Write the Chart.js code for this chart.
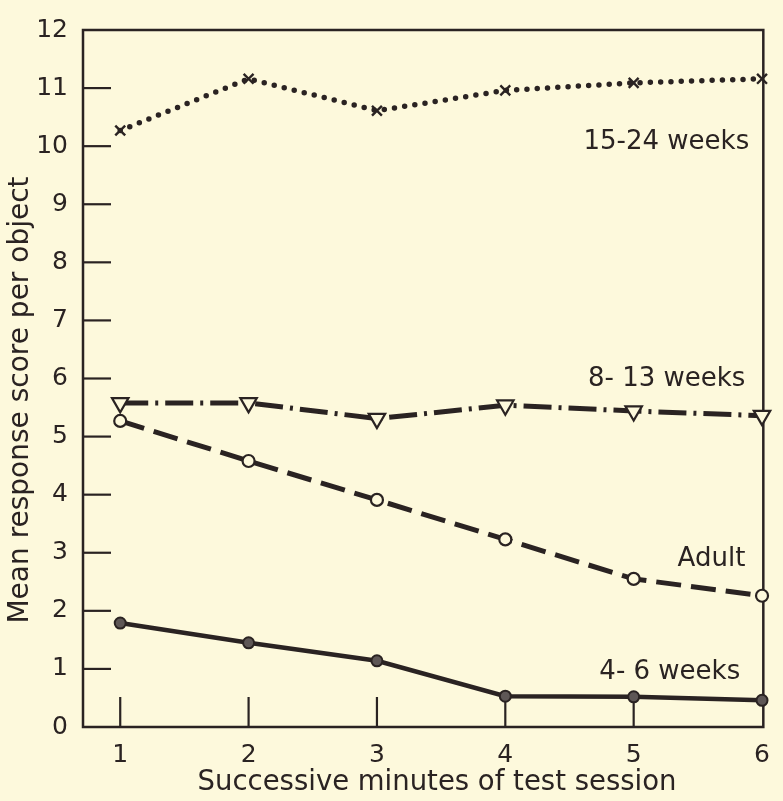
<!DOCTYPE html>
<html><head><meta charset="utf-8">
<script src="https://cdn.jsdelivr.net/npm/chart.js@4/dist/chart.umd.min.js"></script>
<style>html,body{margin:0;padding:0;background:#fdf9dc;}canvas{display:block}</style>
</head><body>
<canvas id="c" width="783" height="801"></canvas>
<script>
// ---- data ----
const minutes = [1, 2, 3, 4, 5, 6];
const weeks15to24 = [10.27, 11.16, 10.61, 10.96, 11.09, 11.16];
const weeks8to13 = [5.58, 5.58, 5.31, 5.54, 5.44, 5.36];
const adult = [5.27, 4.58, 3.91, 3.23, 2.55, 2.26];
const weeks4to6 = [1.79, 1.45, 1.14, 0.53, 0.52, 0.46];
const yTickValues = [0, 1, 2, 3, 4, 5, 6, 7, 8, 9, 10, 11, 12];
const xTickValues = [1, 2, 3, 4, 5, 6];
const seriesNames = ['15-24 weeks', '8- 13 weeks', 'Adult', '4- 6 weeks'];
const xTitle = 'Successive minutes of test session';
const yTitle = 'Mean response score per object';

// ---- styles ----
const INK = '#2a2322';
const BG = '#fdf9dc';
const FONT = 'DejaVu Sans';
const pts = arr => minutes.map((m, i) => ({ x: m, y: arr[i] }));

const labelSpots = [ // [series index, x value (right edge), y value]
  [0, 5.9, 10.07], [1, 5.87, 5.99], [2, 5.87, 2.89], [3, 5.83, 0.95]
];

const framePlugin = {
  id: 'frame',
  beforeDraw(chart) {
    const c = chart.ctx;
    c.save(); c.fillStyle = BG; c.fillRect(0, 0, chart.width, chart.height); c.restore();
  },
  beforeDatasetsDraw(chart) {
    const c = chart.ctx, ca = chart.chartArea, xs = chart.scales.x, ys = chart.scales.y;
    c.save();
    c.strokeStyle = INK; c.lineWidth = 2.5; c.lineCap = 'butt';
    c.strokeRect(ca.left, ca.top, ca.right - ca.left, ca.bottom - ca.top);
    c.lineWidth = 2.2;
    yTickValues.filter(v => v > 0 && v < 12).forEach(v => {
      const py = ys.getPixelForValue(v);
      c.beginPath(); c.moveTo(ca.left, py); c.lineTo(ca.left + 28, py); c.stroke();
    });
    xTickValues.filter(v => v < 6).forEach(v => {
      const px = xs.getPixelForValue(v);
      c.beginPath(); c.moveTo(px, ca.bottom); c.lineTo(px, ca.bottom - 30); c.stroke();
    });
    c.restore();
  },
  afterDraw(chart) {
    const c = chart.ctx, ca = chart.chartArea, xs = chart.scales.x, ys = chart.scales.y;
    c.save();
    c.fillStyle = INK;
    c.font = '26px "' + FONT + '"';
    c.textBaseline = 'middle';
    c.textAlign = 'right';
    labelSpots.forEach(([i, xv, yv]) => {
      c.fillText(seriesNames[i], xs.getPixelForValue(xv), ys.getPixelForValue(yv));
    });
    c.font = '27.5px "' + FONT + '"';
    c.textAlign = 'center';
    c.fillText(xTitle, 437, 783);
    c.translate(21, 400);
    c.rotate(-Math.PI / 2);
    c.font = '28px "' + FONT + '"';
    c.fillText(yTitle, 0, 0);
    c.restore();
  }
};

new Chart(document.getElementById('c'), {
  type: 'line',
  data: {
    datasets: [
      {
        label: seriesNames[0], data: pts(weeks15to24),
        borderColor: INK, borderWidth: 5.5, borderDash: [0, 10.3], borderCapStyle: 'round',
        pointStyle: 'crossRot', pointRadius: 7, pointBorderWidth: 2.4,
        pointBorderColor: INK, pointBackgroundColor: INK, clip: false
      },
      {
        label: seriesNames[1], data: pts(weeks8to13),
        borderColor: INK, borderWidth: 5, borderDash: [28, 7, 3, 7],
        pointStyle: 'triangle', rotation: 180, pointRadius: 9.5, pointBorderWidth: 2.2,
        pointBorderColor: INK, pointBackgroundColor: BG, clip: false
      },
      {
        label: seriesNames[2], data: pts(adult),
        borderColor: INK, borderWidth: 5, borderDash: [25, 10],
        pointStyle: 'circle', pointRadius: 6, pointBorderWidth: 2.2,
        pointBorderColor: INK, pointBackgroundColor: BG, clip: false
      },
      {
        label: seriesNames[3], data: pts(weeks4to6),
        borderColor: INK, borderWidth: 4.5,
        pointStyle: 'circle', pointRadius: 5.5, pointBorderWidth: 2,
        pointBorderColor: INK, pointBackgroundColor: '#5e5756', clip: false
      }
    ]
  },
  options: {
    responsive: false, animation: false, devicePixelRatio: 1,
    layout: { padding: { top: 22, right: 9, left: 0, bottom: 0 } },
    plugins: { legend: { display: false }, tooltip: { enabled: false } },
    elements: { line: { tension: 0 } },
    scales: {
      x: {
        type: 'linear', min: 0.71, max: 6.01,
        afterFit(s) { s.height = 74; },
        afterBuildTicks(s) { s.ticks = xTickValues.map(v => ({ value: v })); },
        grid: { display: false, drawTicks: false },
        border: { display: false },
        ticks: { padding: 13, color: INK, font: { family: FONT, size: 25 }, maxRotation: 0, autoSkip: false }
      },
      y: {
        type: 'linear', min: 0, max: 12,
        afterFit(s) { s.width = 83; },
        afterBuildTicks(s) { s.ticks = yTickValues.map(v => ({ value: v })); },
        grid: { display: false, drawTicks: false },
        border: { display: false },
        ticks: { padding: 15, color: INK, font: { family: FONT, size: 25 }, autoSkip: false }
      }
    }
  },
  plugins: [framePlugin]
});
</script>
</body></html>
